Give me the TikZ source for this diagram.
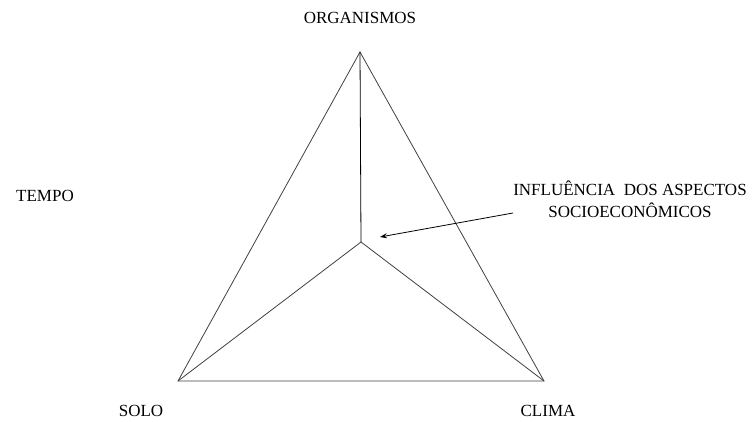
\documentclass[tikz,border=0pt]{standalone}
\usepackage{fontspec}
\setmainfont{Liberation Serif}
\usetikzlibrary{arrows.meta}

\begin{document}
\begin{tikzpicture}[x=1pt, y=-1pt, font=\rmfamily\fontsize{17}{22}\selectfont]
  \tikzset{edge/.style={draw=black!75, line width=0.8pt}}
  \tikzset{factor/.style={inner sep=0pt, align=center}}

  \useasboundingbox (0,0) rectangle (755,422);

  \coordinate (top) at (360,52); % ORGANISMOS
  \coordinate (left) at (178,381); % SOLO
  \coordinate (right) at (544,381); % CLIMA
  \coordinate (mid) at (361,242);
  \coordinate (tail) at (513,213);
  \coordinate (tip) at (380,237);

  \node[factor] (org) at (360,18) {ORGANISMOS};
  \node[factor] (tempo) at (45,196) {TEMPO};
  \node[factor] (solo) at (141,411) {SOLO};
  \node[factor] (clima) at (548,411) {CLIMA};
  \node[factor] (infl) at (630,199) {INFLUÊNCIA\ \ DOS ASPECTOS\\SOCIOECONÔMICOS};

  \draw[edge] (top) -- (left) -- (right) -- cycle;
  \draw[edge] (left) -- (mid) -- (right);
  \draw[edge, draw=black] (top) -- (mid);
  \draw[line width=0.8pt, -{Stealth[length=7pt, width=5pt]}] (tail) -- (tip);
\end{tikzpicture}
\end{document}
